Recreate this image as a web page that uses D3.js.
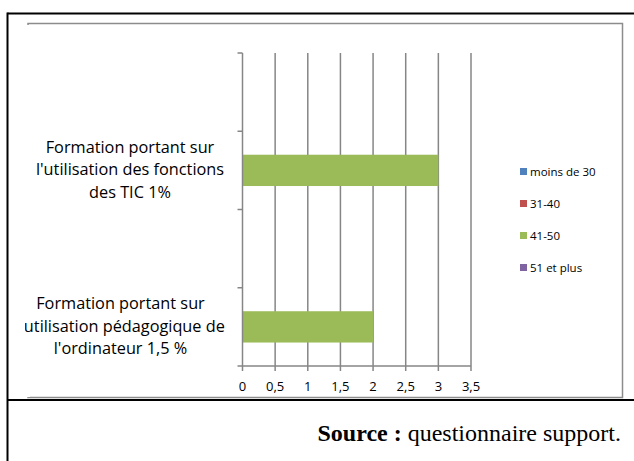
<!DOCTYPE html>
<html><head><meta charset="utf-8">
<script src="https://cdn.jsdelivr.net/npm/d3@7"></script>
<style>body{margin:0;background:#fff;}svg{display:block;}</style>
</head><body>
<svg id="c" width="634" height="461"></svg>
<script>
// ---- data ----
const categories = ["cat1", "cat2", "cat3", "cat4"]; // top to bottom
const categoryLabels = [
  [],
  ["Formation portant sur", "l'utilisation des fonctions", "des TIC 1%"],
  [],
  ["Formation portant sur", "l'utilisation pédagogique de", "l'ordinateur 1,5 %"]
];
const labelCenters = [130, 130, 120.5, 120.5];
const seriesNames = ["moins de 30", "31-40", "41-50", "51 et plus"];
const seriesColors = ["#4F81BD", "#C0504D", "#9BBB59", "#8064A2"];
const valMoins30 = [0, 0, 0, 0];
const val31_40 = [0, 0, 0, 0];
const val41_50 = [0, 3, 0, 2];
const val51plus = [0, 0, 0, 0];
const xTicks = [0, 0.5, 1, 1.5, 2, 2.5, 3, 3.5];
const xTickLabels = ["0", "0,5", "1", "1,5", "2", "2,5", "3", "3,5"];
const sourceBold = "Source :";
const sourceText = " questionnaire support.";

const seriesValues = [valMoins30, val31_40, val41_50, val51plus];
const svg = d3.select("#c");

// outer document frame
svg.append("line").attr("x1", 7.5).attr("x2", 640).attr("y1", 13.5).attr("y2", 13.5).attr("stroke", "#000").attr("stroke-width", 2);
svg.append("line").attr("x1", 7.5).attr("x2", 7.5).attr("y1", 12.5).attr("y2", 461).attr("stroke", "#000").attr("stroke-width", 2);
svg.append("line").attr("x1", 7.5).attr("x2", 640).attr("y1", 400).attr("y2", 400).attr("stroke", "#000").attr("stroke-width", 2);

// chart frame (gray), clipped on the left
svg.append("defs").append("clipPath").attr("id", "clip")
  .append("rect").attr("x", 25).attr("y", 15).attr("width", 610).attr("height", 384);
const chart = svg.append("g").attr("clip-path", "url(#clip)");
chart.append("rect").attr("x", 28).attr("y", 23.5).attr("width", 594.5).attr("height", 374)
  .attr("fill", "none").attr("stroke", "#8c8c8c").attr("stroke-width", 1.5);
// hide left edge of chart frame (cut off in the reference)
chart.append("rect").attr("x", 24).attr("y", 25).attr("width", 6).attr("height", 372).attr("fill", "#fff");

const x = d3.scaleLinear().domain([0, 3.5]).range([242.5, 471]);
const y = d3.scaleBand().domain(categories).range([53, 366]).padding(0);
const barFrac = 1 / 2.5;

const axisColor = "#868686";
// gridlines
chart.append("g").selectAll("line").data(xTicks.filter(d => d > 0)).join("line")
  .attr("x1", d => x(d)).attr("x2", d => x(d)).attr("y1", 53).attr("y2", 366)
  .attr("stroke", axisColor).attr("stroke-width", 1.5);

// stacked bars
const stackData = categories.map((c, i) => {
  const o = { cat: c };
  seriesNames.forEach((s, j) => o[s] = seriesValues[j][i]);
  return o;
});
const stacked = d3.stack().keys(seriesNames)(stackData);
chart.append("g").selectAll("g").data(stacked).join("g")
  .attr("fill", (d, i) => seriesColors[i])
  .selectAll("rect").data(d => d.filter(e => e[1] - e[0] > 0)).join("rect")
  .attr("x", d => x(d[0]))
  .attr("width", d => x(d[1]) - x(d[0]))
  .attr("y", d => y(d.data.cat) + y.bandwidth() * (1 - barFrac) / 2)
  .attr("height", y.bandwidth() * barFrac);

// vertical (category) axis
chart.append("line").attr("x1", x(0)).attr("x2", x(0)).attr("y1", 53).attr("y2", 366)
  .attr("stroke", axisColor).attr("stroke-width", 1.5);
const bounds = categories.map(c => y(c)).concat([366]);
chart.append("g").selectAll("line").data(bounds).join("line")
  .attr("x1", x(0) - 5).attr("x2", x(0)).attr("y1", d => d).attr("y2", d => d)
  .attr("stroke", axisColor).attr("stroke-width", 1.5);

// horizontal (value) axis
chart.append("line").attr("x1", x(0)).attr("x2", x(3.5)).attr("y1", 366).attr("y2", 366)
  .attr("stroke", axisColor).attr("stroke-width", 1.5);
chart.append("g").selectAll("line").data(xTicks).join("line")
  .attr("x1", d => x(d)).attr("x2", d => x(d)).attr("y1", 366).attr("y2", 371)
  .attr("stroke", axisColor).attr("stroke-width", 1.5);
chart.append("g").selectAll("text").data(xTicks).join("text")
  .attr("x", d => x(d)).attr("y", 391).attr("text-anchor", "middle")
  .attr("font-family", "Open Sans").attr("font-size", 13).attr("fill", "#000")
  .text((d, i) => xTickLabels[i]);

// category labels
categories.forEach((c, i) => {
  const lines = categoryLabels[i];
  const cy = y(c) + y.bandwidth() / 2;
  lines.forEach((t, k) => {
    chart.append("text").attr("x", labelCenters[i]).attr("y", cy + 5 + (k - 1) * 22.5)
      .attr("text-anchor", "middle").attr("font-family", "Open Sans").attr("font-size", 16.3)
      .attr("fill", "#000").text(t);
  });
});

// legend
const lg = chart.append("g").selectAll("g").data(seriesNames).join("g")
  .attr("transform", (d, i) => `translate(520,${168 + i * 32})`);
lg.append("rect").attr("width", 7).attr("height", 7).attr("fill", (d, i) => seriesColors[i]);
lg.append("text").attr("x", 10).attr("y", 7.5).attr("font-family", "Open Sans").attr("font-size", 11.5)
  .attr("fill", "#000").text(d => d);

// source
const src = svg.append("text").attr("x", 621).attr("y", 441).attr("text-anchor", "end")
  .attr("font-family", "Liberation Serif").attr("font-size", 24).attr("fill", "#000");
src.append("tspan").attr("font-weight", "bold").text(sourceBold);
src.append("tspan").text(sourceText);
</script>
</body></html>
